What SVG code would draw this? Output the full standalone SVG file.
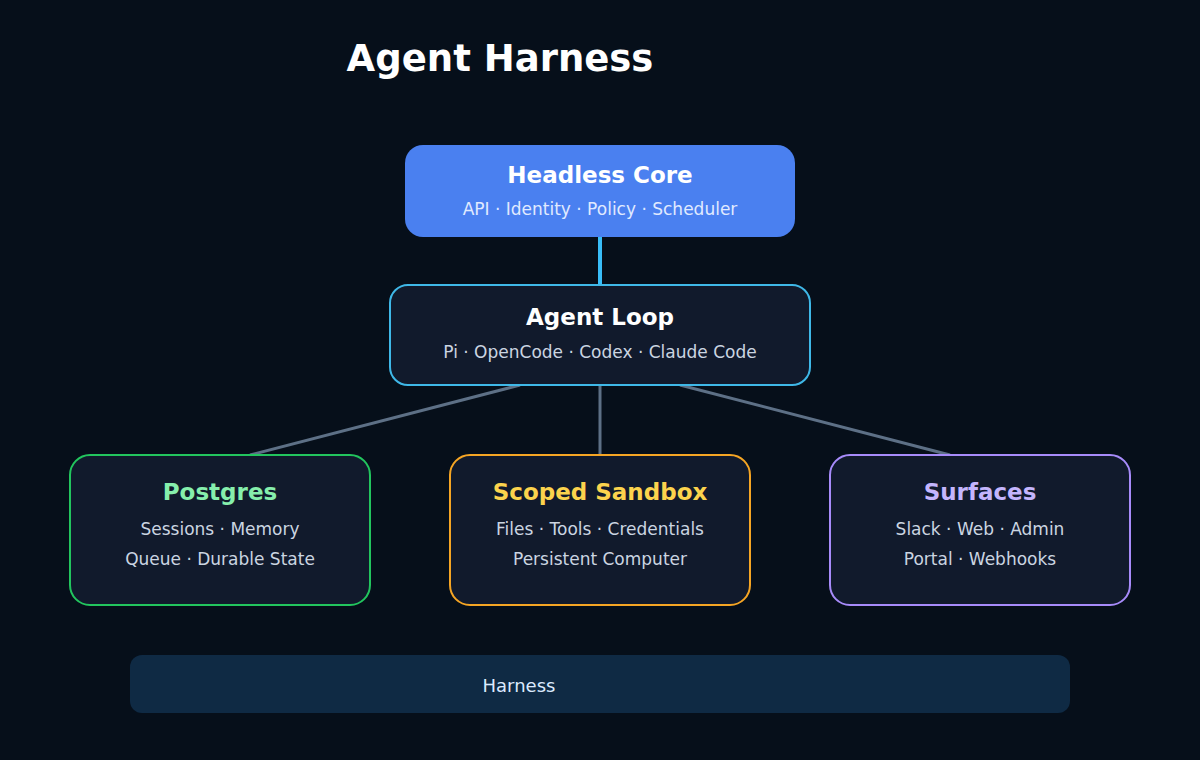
<svg xmlns="http://www.w3.org/2000/svg" width="1200" height="760" viewBox="0 0 1200 760">
<style>
text{font-family:"DejaVu Sans",sans-serif;text-anchor:middle}
.t{font-size:23px;font-weight:bold}
.s{font-size:17px;fill:#cbd5e1}
.box{fill:#111a2c;stroke-width:2}
.c{stroke:#5d7086;stroke-width:3;fill:none}
</style>
<rect width="1200" height="760" fill="#060f1a"/>
<text x="500" y="71" style="font-size:37px;font-weight:bold" fill="#ffffff">Agent Harness</text>
<g id="connectors">
<line x1="600" y1="237" x2="600" y2="286" stroke="#38bdf8" stroke-width="4"/>
<line class="c" x1="520" y1="385" x2="250" y2="455"/>
<line class="c" x1="600" y1="385" x2="600" y2="455"/>
<line class="c" x1="680" y1="385" x2="950" y2="455"/>
</g>
<g id="core">
<rect x="405" y="145" width="390" height="92" rx="18" fill="#4a80f0"/>
<text class="t" x="600" y="183" fill="#ffffff">Headless Core</text>
<text class="s" x="600" y="215" fill="#e0eaff" style="fill:#e0eaff">API · Identity · Policy · Scheduler</text>
</g>
<g id="loop">
<rect class="box" x="390" y="285" width="420" height="100" rx="18" stroke="#3fb8e8"/>
<text class="t" x="600" y="325" fill="#ffffff">Agent Loop</text>
<text class="s" x="600" y="358">Pi · OpenCode · Codex · Claude Code</text>
</g>
<g id="postgres">
<rect class="box" x="70" y="455" width="300" height="150" rx="20" stroke="#22c55e"/>
<text class="t" x="220" y="500" fill="#86efac">Postgres</text>
<text class="s" x="220" y="535">Sessions · Memory</text>
<text class="s" x="220" y="565">Queue · Durable State</text>
</g>
<g id="sandbox">
<rect class="box" x="450" y="455" width="300" height="150" rx="20" stroke="#f5a524"/>
<text class="t" x="600" y="500" fill="#fcd34d">Scoped Sandbox</text>
<text class="s" x="600" y="535">Files · Tools · Credentials</text>
<text class="s" x="600" y="565">Persistent Computer</text>
</g>
<g id="surfaces">
<rect class="box" x="830" y="455" width="300" height="150" rx="20" stroke="#a78bfa"/>
<text class="t" x="980" y="500" fill="#c4b5fd">Surfaces</text>
<text class="s" x="980" y="535">Slack · Web · Admin</text>
<text class="s" x="980" y="565">Portal · Webhooks</text>
</g>
<g id="harness">
<rect x="130" y="655" width="940" height="58" rx="12" fill="#0f2a44"/>
<text x="519" y="692" style="font-size:18px" fill="#dbeafe">Harness</text>
</g>
</svg>
